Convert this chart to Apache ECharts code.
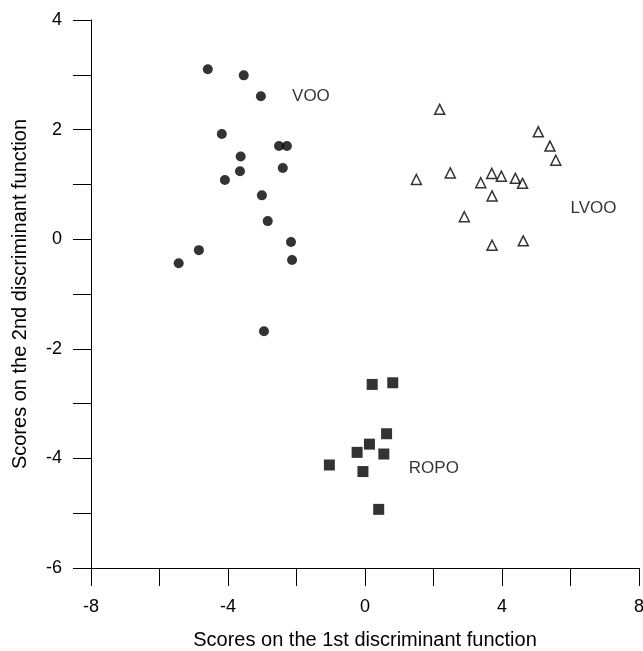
<!DOCTYPE html>
<html>
<head>
    <meta charset="utf-8">
    <title>Discriminant function scores</title>
    <script src="https://cdn.jsdelivr.net/npm/echarts@6.0.0/dist/echarts.min.js"></script>
    <style>
        html, body { margin: 0; padding: 0; background: #fff; }
        #chart-container { width: 643px; height: 651px; }
    </style>
</head>
<body>
<div id="chart-container"></div>
<script>
    // group data: [score 1, score 2]
    var voo = [
        [-4.59, 3.10], [-3.54, 2.99], [-3.04, 2.61], [-4.18, 1.92],
        [-2.51, 1.70], [-2.28, 1.70], [-3.63, 1.51], [-3.65, 1.24],
        [-2.40, 1.30], [-4.09, 1.08], [-3.01, 0.80], [-2.84, 0.33],
        [-2.16, -0.05], [-2.13, -0.38], [-4.85, -0.20], [-5.44, -0.44],
        [-2.95, -1.68]
    ];
    var lvoo = [
        [2.18, 2.37], [5.06, 1.96], [5.40, 1.70], [5.57, 1.44],
        [1.50, 1.09], [2.49, 1.21], [3.70, 1.20], [3.98, 1.15],
        [3.38, 1.03], [4.39, 1.11], [4.60, 1.02], [3.71, 0.79],
        [2.90, 0.41], [3.71, -0.11], [4.62, -0.03]
    ];
    var ropo = [
        [0.21, -2.65], [0.81, -2.62], [0.63, -3.55], [0.13, -3.74],
        [-0.23, -3.89], [0.55, -3.92], [-1.04, -4.12], [-0.06, -4.24],
        [0.40, -4.93]
    ];
    // group names, anchored at their left edge
    var groupLabels = [
        { name: 'VOO', value: [-2.13, 2.61] },
        { name: 'LVOO', value: [6.0, 0.56] },
        { name: 'ROPO', value: [1.28, -4.18] }
    ];

    var font = '"Liberation Sans", Arial, Helvetica, sans-serif';
    var myChart = echarts.init(document.getElementById('chart-container'));

    var axisCommon = {
        axisLine: { show: true, onZero: false, lineStyle: { color: '#000', width: 1 } },
        axisTick: { show: true, length: 18, lineStyle: { color: '#000' } },
        minorTick: { show: true, splitNumber: 2, length: 18, lineStyle: { color: '#000' } },
        splitLine: { show: false },
        nameLocation: 'middle',
        nameTextStyle: { color: '#000', fontSize: 20, fontFamily: font }
    };

    var option = {
        animation: false,
        backgroundColor: '#fff',
        grid: { left: 91, right: 4, top: 20, bottom: 83, outerBoundsMode: 'none' },
        xAxis: Object.assign({}, axisCommon, {
            type: 'value', min: -8, max: 8, interval: 4,
            name: 'Scores on the 1st discriminant function',
            nameGap: 62,
            axisLabel: { color: '#000', fontSize: 18, fontFamily: font, margin: 30 }
        }),
        yAxis: Object.assign({}, axisCommon, {
            type: 'value', min: -6, max: 4, interval: 2,
            name: 'Scores on the 2nd discriminant function',
            nameGap: 61,
            axisLabel: { color: '#000', fontSize: 18, fontFamily: font, margin: 29 }
        }),
        series: [
            {
                name: 'VOO', type: 'scatter', data: voo,
                symbol: 'circle', symbolSize: 10,
                itemStyle: { color: '#000' }
            },
            {
                name: 'LVOO', type: 'scatter', data: lvoo,
                symbol: 'triangle', symbolSize: 10,
                itemStyle: { color: '#fff', borderColor: '#000', borderWidth: 1.5 }
            },
            {
                name: 'ROPO', type: 'scatter', data: ropo,
                symbol: 'rect', symbolSize: 11,
                itemStyle: { color: '#000' }
            },
            {
                type: 'scatter', data: groupLabels,
                symbolSize: 0, silent: true,
                label: {
                    show: true, position: 'right', distance: 0,
                    formatter: '{b}', color: '#000', fontSize: 17, fontFamily: font
                }
            }
        ]
    };

    myChart.setOption(option);
</script>
</body>
</html>
